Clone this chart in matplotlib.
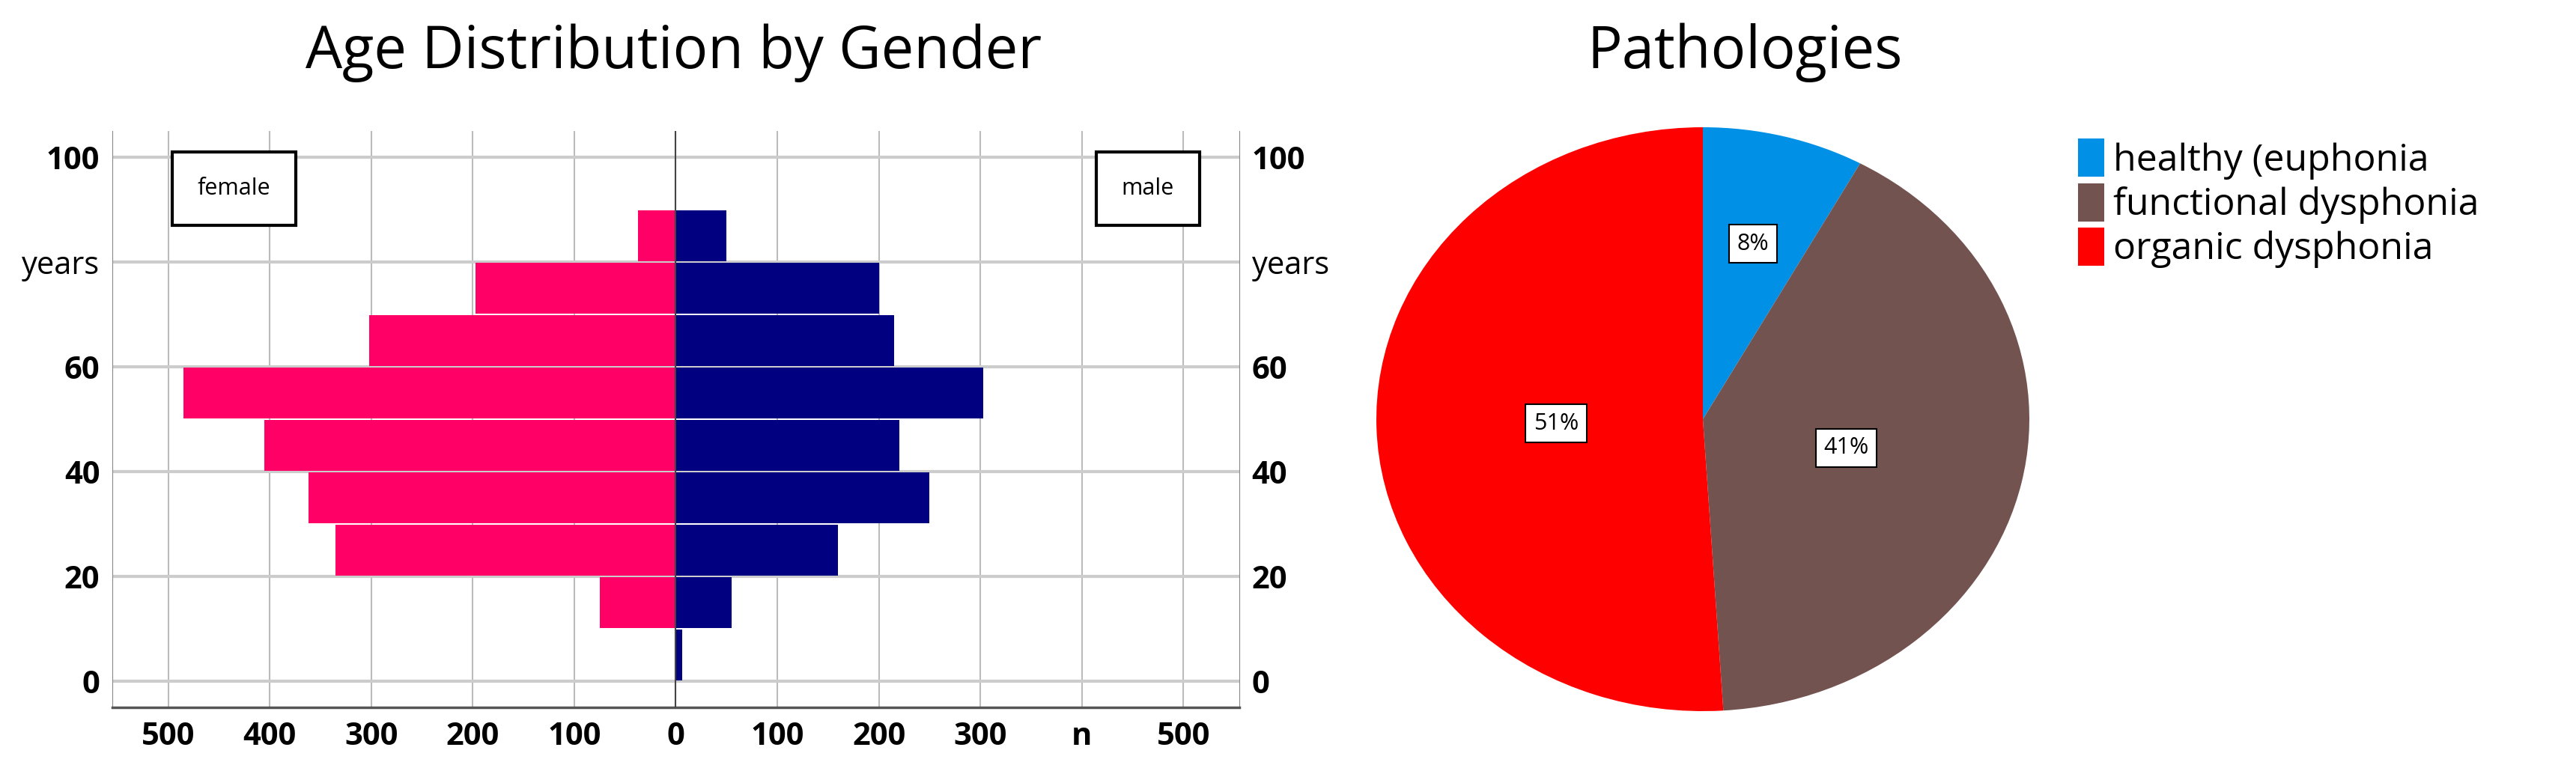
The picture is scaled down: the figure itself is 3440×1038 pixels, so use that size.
import matplotlib
matplotlib.use("Agg")
import matplotlib.pyplot as plt
import numpy as np

# age bins (lower edge, 10-year width)
age_bins = [0, 10, 20, 30, 40, 50, 60, 70, 80]
female = [0, 75, 335, 362, 405, 485, 302, 197, 37]
male = [6, 55, 160, 250, 220, 303, 215, 200, 50]

y_ticks = [0, 20, 40, 60, 80, 100]
y_labels = ["0", "20", "40", "60", "years", "100"]
x_ticks = [-500, -400, -300, -200, -100, 0, 100, 200, 300, 400, 500]
x_labels = ["500", "400", "300", "200", "100", "0", "100", "200", "300", "n", "500"]

pie_labels = ["healthy (euphonia", "functional dysphonia", "organic dysphonia"]
pie_values = [8, 41, 51]
pie_colors = ["#0090e6", "#735350", "#ff0000"]

plt.rcParams["font.family"] = ["Open Sans", "DejaVu Sans"]

fig = plt.figure(figsize=(34.41, 10.38), dpi=100)
W, H = 3441, 1038

# --- population pyramid ---
ax = fig.add_axes([150 / W, 1 - 945 / H, (1655 - 150) / W, (945 - 175) / H])
ax.barh(np.array(age_bins) + 5, -np.array(female), height=9.6, color="#ff0066")
ax.barh(np.array(age_bins) + 5, male, height=9.6, color="#000080")
ax.axvline(0, color="#444444", lw=1.5, zorder=3)
ax.set_xlim(-555, 555)
ax.set_ylim(-5, 105)
ax.set_xticks(x_ticks)
ax.set_xticklabels(x_labels, fontsize=30, fontweight="bold")
ax.set_yticks(y_ticks)
ax.set_yticklabels(y_labels, fontsize=30, fontweight="bold")
ax.tick_params(axis="y", which="both", length=0, labelright=True, right=False, pad=12)
ax.tick_params(axis="x", length=0, pad=14)
for lab in ax.get_yticklabels(which="both"):
    if lab.get_text() == "years":
        lab.set_fontweight("normal")
for lab in ax.yaxis.get_ticklabels():
    pass
ax.xaxis.grid(True, color="#bbbbbb", lw=1.5)
ax.yaxis.grid(True, color="#cccccc", lw=3)
ax.set_axisbelow(True)
ax.spines["top"].set_visible(False)
for s in ["left", "right"]:
    ax.spines[s].set_color("#888888")
ax.spines["bottom"].set_color("#555555")
ax.spines["bottom"].set_linewidth(2.5)
ax.text(-435, 94, "female", fontsize=22, ha="center", va="center",
        bbox=dict(boxstyle="square,pad=1.1", fc="white", ec="black", lw=3))
ax.text(465, 94, "male", fontsize=22, ha="center", va="center",
        bbox=dict(boxstyle="square,pad=1.1", fc="white", ec="black", lw=3))
fig.text(900 / W, 1 - 70 / H, "Age Distribution by Gender", fontsize=56, ha="center", va="center")

# --- pie ---
pax = fig.add_axes([1838 / W, 1 - 950 / H, (2710 - 1838) / W, (950 - 170) / H])
wedges, _ = pax.pie(pie_values, colors=pie_colors, startangle=90, counterclock=False,
                    wedgeprops=dict(lw=0))
pax.set_aspect("auto")
pax.set_xlim(-1, 1)
pax.set_ylim(-1, 1)
for w, v in zip(wedges, pie_values):
    ang = np.deg2rad((w.theta1 + w.theta2) / 2)
    r = 0.62 if v < 20 else 0.45
    pax.text(r * np.cos(ang), r * np.sin(ang), f"{v}%", fontsize=22, ha="center", va="center",
             bbox=dict(boxstyle="square,pad=0.35", fc="white", ec="black", lw=1.5))
fig.text(2330 / W, 1 - 70 / H, "Pathologies", fontsize=56, ha="center", va="center")
fig.legend(wedges, pie_labels, loc="upper left", bbox_to_anchor=(2755 / W, 1 - 165 / H),
           frameon=False, fontsize=36, handlelength=0.7, handleheight=1.2,
           handletextpad=0.25, labelspacing=0.1, borderaxespad=0)

fig.savefig("out.png", dpi=100)
